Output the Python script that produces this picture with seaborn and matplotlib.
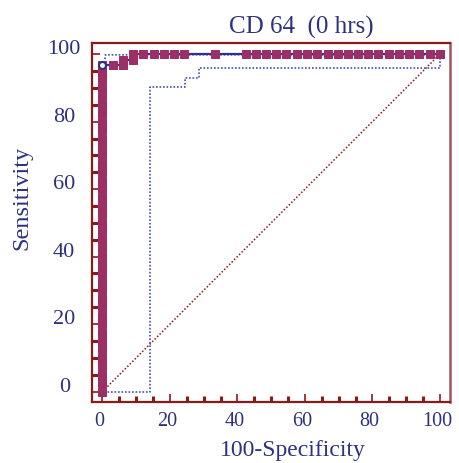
import matplotlib
matplotlib.use("Agg")
import matplotlib.pyplot as plt
from matplotlib.transforms import ScaledTranslation
import seaborn as sns

# ROC points (100-Specificity, Sensitivity)
roc_fpr = [0, 0, 0, 0, 0, 0, 0, 0, 0, 0, 0, 0, 0, 0, 0, 0, 0, 0, 0, 0,
           0, 0, 0, 0, 0, 0, 0, 0, 0, 0, 0, 0, 0, 0, 0, 0, 0, 0, 0, 0,
           3.0, 6.1, 6.1, 9.1, 9.1, 12.1, 15.2, 18.2, 21.2, 24.2, 33.3,
           42.4, 45.5, 48.5, 51.5, 54.5, 57.6, 60.6, 63.6, 66.7, 69.7,
           72.7, 75.8, 78.8, 81.8, 84.8, 87.9, 90.9, 93.9, 97.0, 100]
roc_sens = [0, 2.5, 5, 7.5, 10, 12.5, 15, 17.5, 20, 22.5, 25, 27.5, 30, 32.5,
            35, 37.5, 40, 42.5, 45, 47.5, 50, 52.5, 55, 57.5, 60, 62.5, 65,
            67.5, 70, 72.5, 75, 77.5, 80, 82.5, 85, 87.5, 90, 92.5, 95, 96.7,
            96.7, 96.7, 98.3, 98.3, 100, 100, 100, 100, 100, 100, 100,
            100, 100, 100, 100, 100, 100, 100, 100, 100, 100,
            100, 100, 100, 100, 100, 100, 100, 100, 100, 100]

# optimal criterion point
crit_fpr = [0]
crit_sens = [96.7]

# confidence bounds
lower_fpr = [0.5, 14.2, 14.2, 24.4, 24.4, 28.6, 28.6, 100, 100]
lower_sens = [0, 0, 90.2, 90.2, 92.9, 92.9, 95.9, 95.9, 98.9]
upper_fpr = [0.5, 0.5, 0.9, 100]
upper_sens = [0, 96.8, 99.8, 99.8]

diag = [0, 100]

x_ticks = [0, 20, 40, 60, 80, 100]
y_ticks = [0, 20, 40, 60, 80, 100]

navy = "#2E3180"
line_navy = "#2E3192"
band_blue = "#4650AE"
maroon = "#8B1A1A"
magenta = "#9C2F66"


def main():
    sns.set_theme(style="white")
    plt.rcParams['font.family'] = ['Liberation Serif', 'DejaVu Serif']

    fig = plt.figure(figsize=(4.59, 4.63), dpi=100)
    ax = fig.add_axes([0.2004, 0.1317, 0.78, 0.7754])

    sns.lineplot(x=diag, y=diag, ax=ax, color=maroon, linestyle=(0, (1, 1.3)),
                 linewidth=1.1, estimator=None, sort=False)
    sns.lineplot(x=lower_fpr, y=lower_sens, ax=ax, color=band_blue,
                 linestyle=(0, (1, 1.1)), linewidth=1.2, estimator=None, sort=False)
    sns.lineplot(x=upper_fpr, y=upper_sens, ax=ax, color=band_blue,
                 linestyle=(0, (1, 1.1)), linewidth=1.2, estimator=None, sort=False)
    sns.lineplot(x=roc_fpr, y=roc_sens, ax=ax, color=line_navy, linewidth=1.6,
                 marker="s", markersize=6, markerfacecolor=magenta,
                 markeredgecolor=magenta, estimator=None, sort=False)
    ax.plot(crit_fpr, crit_sens, "o", markersize=5, markerfacecolor="white",
            markeredgecolor=line_navy, markeredgewidth=1.5, zorder=5)

    ax.set_xlim(-3.1, 103.0)
    ax.set_ylim(-3.1, 103.3)
    ax.set_xticks(x_ticks)
    ax.set_yticks(y_ticks)
    ax.set_xticks(range(5, 100, 5), minor=True)
    ax.set_yticks(range(5, 100, 5), minor=True)

    for side in ["left", "bottom", "top"]:
        ax.spines[side].set_color(maroon)
        ax.spines[side].set_linewidth(1.6)
    ax.spines["right"].set_color("#A0565C")
    ax.spines["right"].set_linewidth(1.8)

    ax.tick_params(which="both", bottom=True, left=True, top=False, right=False)
    ax.tick_params(which="major", direction="in", length=6, width=1.2,
                   color=maroon, labelcolor=navy)
    ax.tick_params(which="minor", direction="in", length=4, width=2.2,
                   color=maroon)
    ax.tick_params(axis="x", which="major", pad=7, labelsize=14.5)
    ax.tick_params(axis="y", which="major", pad=20, labelsize=16)

    for lbl in ax.get_yticklabels():
        lbl.set_horizontalalignment("center")
        lbl.set_transform(lbl.get_transform() + ScaledTranslation(0, 0.07, fig.dpi_scale_trans))
    for lbl in ax.get_xticklabels():
        lbl.set_transform(lbl.get_transform() + ScaledTranslation(-0.03, 0, fig.dpi_scale_trans))

    ax.set_title("CD 64  (0 hrs)", fontsize=18, color=navy, x=0.585, pad=7)
    ax.set_xlabel("100-Specificity", fontsize=17, color=navy, va="center")
    ax.xaxis.set_label_coords(0.561, -0.134)
    ax.set_ylabel("Sensitivity", fontsize=17.5, color=navy, va="center")
    ax.yaxis.set_label_coords(-0.195, 0.568)

    fig.savefig("out.png", dpi=100)
    plt.close(fig)


if __name__ == '__main__':
    main()
